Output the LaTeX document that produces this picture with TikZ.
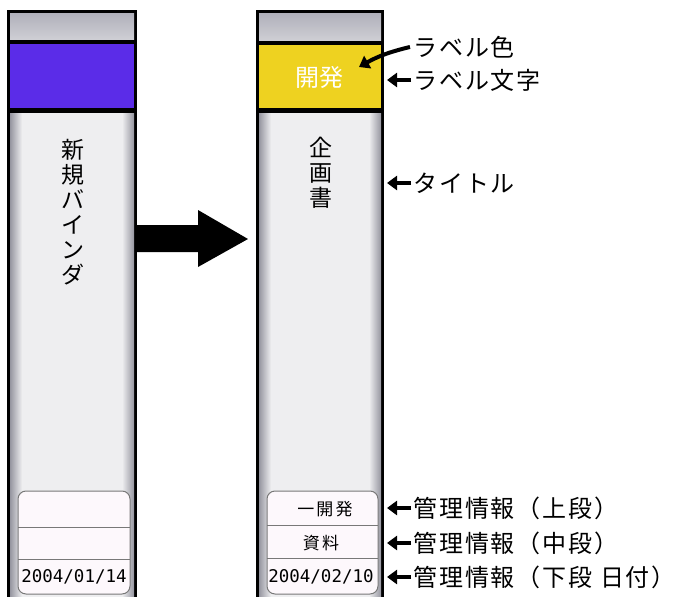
\documentclass[tikz,border=0pt]{standalone}
\usepackage{fontspec}
\usetikzlibrary{arrows.meta}
\newfontfamily\jp{Noto Sans CJK JP}
\newfontfamily\jpwide[LetterSpace=8]{Noto Sans CJK JP}
\newfontfamily\jpbox[LetterSpace=12]{Noto Sans CJK JP}
\newfontfamily\datefont{DejaVu Sans Mono}
\definecolor{labelblue}{RGB}{91,44,232}
\definecolor{labelyellow}{RGB}{238,210,32}
\definecolor{bandgray}{RGB}{176,176,186}
\definecolor{bandlight}{RGB}{206,206,212}
\definecolor{bodygray}{RGB}{238,238,240}
\definecolor{edgegray}{RGB}{150,150,160}
\definecolor{boxline}{RGB}{120,120,120}
\definecolor{boxfill}{RGB}{253,248,252}
\tikzset{
  topband/.style={top color=bandgray, bottom color=bandlight},
  edgeL/.style={left color=edgegray, right color=bodygray},
  edgeR/.style={left color=bodygray, right color=edgegray},
  infobox/.style={draw=boxline, fill=boxfill, rounded corners=8pt, line width=1pt},
  divider/.style={draw=boxline, line width=0.8pt},
  vtext/.style={font=\jp\fontsize{23}{25}\selectfont, align=center, text=black, inner sep=0pt},
  boxtext/.style={font=\jpbox\fontsize{17}{17}\selectfont, inner sep=0pt},
  datetext/.style={font=\datefont\fontsize{17.5}{17.5}\selectfont, inner sep=0pt},
  anno/.style={font=\jpwide\fontsize{24}{24}\selectfont, anchor=west, inner sep=0pt},
  annoarrow/.style={-{Triangle[length=10pt,width=14pt]}, line width=4pt},
}
\begin{document}
\begin{tikzpicture}[x=1pt,y=-1pt]
\useasboundingbox (0,0) rectangle (683,597);
\fill[white] (0,0) rectangle (683,597);
% ---- left spine ----
\fill[black] (7,10) rectangle (137,597);
\fill[topband] (10,13) rectangle (134,39);
\fill[labelblue] (10,44) rectangle (134,108);
\fill[bodygray] (10,113) rectangle (134,597);
\fill[edgeL] (10,113) rectangle (22,597);
\fill[edgeR] (122,113) rectangle (134,597);
\node[vtext] (ltitle) at (73,212) {新\\規\\バ\\イ\\ン\\ダ};
\path[infobox] (18,491) rectangle (130,594);
\draw[divider] (18,527) -- (130,527);
\draw[divider] (18,559) -- (130,559);
\node[datetext] (ldate) at (74,577) {2004/01/14};
% ---- right spine ----
\fill[black] (256,10) rectangle (384,597);
\fill[topband] (259,13) rectangle (381,40);
\fill[labelyellow] (259,45) rectangle (381,108);
\fill[bodygray] (259,113) rectangle (381,597);
\fill[edgeL] (259,113) rectangle (271,597);
\fill[edgeR] (369,113) rectangle (381,597);
\node[font=\jp\fontsize{24}{24}\selectfont, text=white, inner sep=0pt] (rlabel) at (319,77) {開発};
\node[vtext] (rtitle) at (321,173) {企\\画\\書};
\path[infobox] (267,491) rectangle (378,594);
\draw[divider] (267,525) -- (378,525);
\draw[divider] (267,558) -- (378,558);
\node[boxtext] (rtop) at (325,509) {一開発};
\node[boxtext] (rmid) at (321,543) {資料};
\node[datetext] (rdate) at (321,577) {2004/02/10};
% ---- big arrow ----
\fill[black] (137,225) -- (198,225) -- (198,210) -- (248,239) -- (198,267) -- (198,252) -- (137,252) -- cycle;
% ---- annotations ----
\node[anno] (a1) at (413,47) {ラベル色};
\node[anno] (a2) at (413,80) {ラベル文字};
\node[anno] (a3) at (413,183) {タイトル};
\node[anno] (a4) at (413,508) {管理情報（上段）};
\node[anno] (a5) at (413,543) {管理情報（中段）};
\node[anno] (a6) at (413,577) {管理情報（下段 日付）};
\coordinate (p1) at (359,67);
\coordinate (p2) at (387,80);
\coordinate (p3) at (387,183);
\coordinate (p4) at (387,508);
\coordinate (p5) at (387,543);
\coordinate (p6) at (387,577);
\draw[annoarrow] ([xshift=-3pt]a1.west) to[bend right=8] (p1);
\draw[annoarrow] ([xshift=-2pt]a2.west) -- (p2);
\draw[annoarrow] ([xshift=-2pt]a3.west) -- (p3);
\draw[annoarrow] ([xshift=-2pt]a4.west) -- (p4);
\draw[annoarrow] ([xshift=-2pt]a5.west) -- (p5);
\draw[annoarrow] ([xshift=-2pt]a6.west) -- (p6);
\end{tikzpicture}
\end{document}
